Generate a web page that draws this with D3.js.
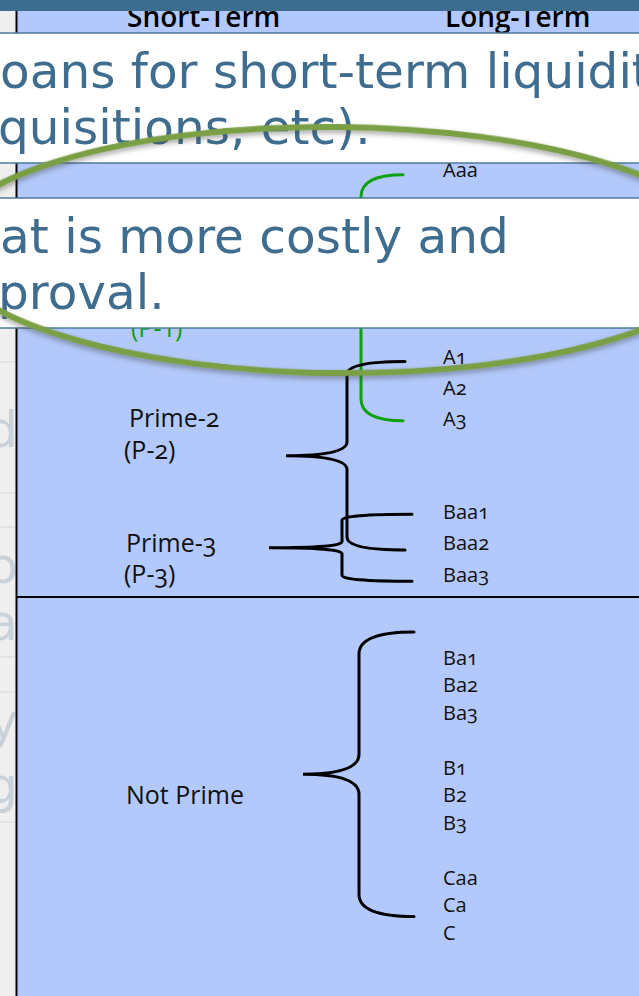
<!DOCTYPE html>
<html>
<head>
<meta charset="utf-8">
<script src="https://d3js.org/d3.v7.min.js"></script>
<style>
  body { margin: 0; background: #b3c9fb; }
  svg { display: block; }
  .label { font-family: "Open Sans", sans-serif; font-feature-settings: "onum" 1; }
  .slide { font-family: "DejaVu Sans", sans-serif; }
</style>
</head>
<body>
<div id="chart"></div>
<script>
/* Data */
let headers = ["Short-Term", "Long-Term"];

// long-term ratings, one per table line ("" = blank line)
let longTermTop = ["Aaa", "", "Aa1", "Aa2", "Aa3", "", "A1", "A2", "A3", "", "", "Baa1", "Baa2", "Baa3"];
let longTermBottom = ["Ba1", "Ba2", "Ba3", "", "B1", "B2", "B3", "", "Caa", "Ca", "C"];

// short-term ratings, the table line they sit on, and the line span of their brace
let shortTerm = ["Prime-1", "Prime-2", "Prime-3", "Not Prime"];
let shortTermCode = ["(P-1)", "(P-2)", "(P-3)", ""];
let shortTermSection = ["top", "top", "top", "bottom"];
let shortTermLine = [4, 8, 12, 5];
let braceFrom = [0.15, 6.15, 11.05, -0.95];
let braceTo = [8.05, 12.2, 13.2, 9.4];

// slide text boxes lying over the table
let slideBox1 = ["oans for short-term liquidit", "quisitions, etc)."];
let slideBox2 = ["at is more costly and", "proval."];
let faintLetters = ["d", "o", "a", "y", "g"];

/* Layout */
let width = 639,
  height = 996;

let green = "#0fa00f",
  blueBg = "#b3c9fb",
  slideBlue = "#3e6d8f";

// the two white boxes: top y, height 130
let boxTop = [33, 198],
  boxH = 130;

// true when a text line sits fully under one of the boxes
function covered(y) {
  return boxTop.some(function(t) { return y - 16 > t && y + 8 < t + boxH; });
}

let svg = d3.select("#chart")
  .append("svg")
  .attr("width", width)
  .attr("height", height);

let defs = svg.append("defs");
defs.append("filter")
  .attr("id", "shadow")
  .attr("x", "-10%").attr("y", "-20%")
  .attr("width", "120%").attr("height", "140%")
  .append("feDropShadow")
  .attr("dx", 0).attr("dy", 3)
  .attr("stdDeviation", 2.5)
  .attr("flood-color", "#404040")
  .attr("flood-opacity", 0.45);
defs.append("clipPath")
  .attr("id", "strip")
  .append("rect")
  .attr("width", 15).attr("height", height);

// row scales of the two table sections
let yTop = d3.scaleLinear()
  .domain([0, longTermTop.length - 1])
  .range([170, 575]);
let yBottom = d3.scaleLinear()
  .domain([0, longTermBottom.length - 1])
  .range([658, 933]);

/* Background */
svg.append("rect").attr("width", width).attr("height", height).attr("fill", blueBg);
svg.append("rect").attr("width", 16).attr("height", height).attr("fill", "#efefef");

// faint remains of the slide behind, at the left edge
let stripLineY = [362, 493, 527, 657, 692, 822];
let faintY = [447, 583, 640, 739, 803];

let strip = svg.append("g").attr("clip-path", "url(#strip)");
strip.selectAll("line")
  .data(stripLineY)
  .enter().append("line")
  .attr("x1", 0).attr("x2", 15)
  .attr("y1", function(d) { return d; })
  .attr("y2", function(d) { return d; })
  .attr("stroke", "#d2d8de")
  .attr("stroke-width", 1);
strip.selectAll("text")
  .data(faintLetters)
  .enter().append("text")
  .attr("class", "slide")
  .attr("x", 18)
  .attr("y", function(d, i) { return faintY[i]; })
  .attr("text-anchor", "end")
  .attr("font-size", 50)
  .attr("fill", "#c9d1d9")
  .text(function(d) { return d; });

/* Table grid */
svg.append("line")
  .attr("x1", 16.5).attr("x2", 16.5)
  .attr("y1", 0).attr("y2", height)
  .attr("stroke", "#000").attr("stroke-width", 2);
svg.append("line")
  .attr("x1", 16).attr("x2", width)
  .attr("y1", 597).attr("y2", 597)
  .attr("stroke", "#000").attr("stroke-width", 2);

// header
svg.selectAll(".header")
  .data(headers)
  .enter().append("text")
  .attr("class", "label header")
  .attr("x", function(d, i) { return i === 0 ? 127 : 445; })
  .attr("y", 27)
  .attr("font-size", 28)
  .attr("font-weight", 600)
  .attr("fill", "#000")
  .text(function(d) { return d; });

/* Long-term column */
function drawRatings(list, y) {
  let rows = list.map(function(d, i) { return { name: d, y: y(i) }; })
    .filter(function(d) { return d.name !== "" && !covered(d.y); });
  svg.append("g")
    .selectAll("text")
    .data(rows)
    .enter().append("text")
    .attr("class", "label")
    .attr("x", 443)
    .attr("y", function(d) { return d.y; })
    .attr("dy", "0.33em")
    .attr("font-size", 20)
    .attr("fill", "#111")
    .text(function(d) { return d.name; });
}
drawRatings(longTermTop, yTop);
drawRatings(longTermBottom, yBottom);

/* Short-term column */
let sectionScale = { top: yTop, bottom: yBottom };

let shortG = svg.append("g");
shortTerm.forEach(function(name, i) {
  let y = sectionScale[shortTermSection[i]];
  let col = i === 0 ? green : "#111";
  let x = i === 0 ? 133 : 126;
  let y1 = y(shortTermLine[i]),
    y2 = y(shortTermLine[i] + 1);
  if (!covered(y1)) {
    shortG.append("text")
      .attr("class", "label")
      .attr("x", x + (i === 1 ? 3 : 0))
      .attr("y", y1)
      .attr("dy", "0.33em")
      .attr("font-size", 25)
      .attr("fill", col)
      .text(name);
  }
  if (shortTermCode[i] !== "") {
    shortG.append("text")
      .attr("class", "label")
      .attr("x", x - 2)
      .attr("y", y2)
      .attr("dy", i === 0 ? "0.45em" : "0.33em")
      .attr("font-size", 25)
      .attr("fill", col)
      .text(shortTermCode[i]);
  }
});

/* Braces */
// end x, spine x, cusp x, end curve height, cusp curve height
let braceShape = [
  { xe: 403, xs: 361, xc: 300, r: 22, rc: 18 },
  { xe: 405, xs: 347, xc: 286, r: 13, rc: 14 },
  { xe: 412, xs: 342, xc: 269, r: 6, rc: 6 },
  { xe: 414, xs: 359, xc: 303, r: 22, rc: 20 }
];

function bracePath(y0, y1, s) {
  let ym = (y0 + y1) / 2;
  return "M" + s.xe + "," + y0 +
    "Q" + s.xs + "," + y0 + " " + s.xs + "," + (y0 + s.r) +
    "L" + s.xs + "," + (ym - s.rc) +
    "Q" + s.xs + "," + ym + " " + s.xc + "," + ym +
    "Q" + s.xs + "," + ym + " " + s.xs + "," + (ym + s.rc) +
    "L" + s.xs + "," + (y1 - s.r) +
    "Q" + s.xs + "," + y1 + " " + s.xe + "," + y1;
}

svg.append("g")
  .selectAll("path")
  .data(shortTerm)
  .enter().append("path")
  .attr("d", function(d, i) {
    let y = sectionScale[shortTermSection[i]];
    return bracePath(y(braceFrom[i]), y(braceTo[i]), braceShape[i]);
  })
  .attr("fill", "none")
  .attr("stroke", function(d, i) { return i === 0 ? green : "#000"; })
  .attr("stroke-width", 3)
  .attr("stroke-linecap", "round");

/* Top bar of the screenshot */
svg.append("rect").attr("width", width).attr("height", 11).attr("fill", "#3d6d8e");

/* Slide text boxes */
function drawBox(y0, lines) {
  let g = svg.append("g");
  g.append("rect")
    .attr("x", -2).attr("y", y0)
    .attr("width", width + 4).attr("height", boxH)
    .attr("fill", "#fff")
    .attr("stroke", "#4d7a9a")
    .attr("stroke-width", 1.5);
  g.selectAll("text")
    .data(lines)
    .enter().append("text")
    .attr("class", "slide")
    .attr("x", function(d, i) { return i === 0 ? 0 : -2; })
    .attr("y", function(d, i) { return y0 + 55 + i * 56; })
    .attr("font-size", 48.5)
    .attr("fill", slideBlue)
    .text(function(d) { return d; });
}
drawBox(boxTop[0], slideBox1);
drawBox(boxTop[1], slideBox2);

/* Green highlight ellipse */
svg.append("ellipse")
  .attr("cx", 336).attr("cy", 250)
  .attr("rx", 392).attr("ry", 123)
  .attr("transform", "rotate(0.5 336 250)")
  .attr("fill", "none")
  .attr("stroke", "#7a9f45")
  .attr("stroke-width", 6)
  .attr("filter", "url(#shadow)");
</script>
</body>
</html>
